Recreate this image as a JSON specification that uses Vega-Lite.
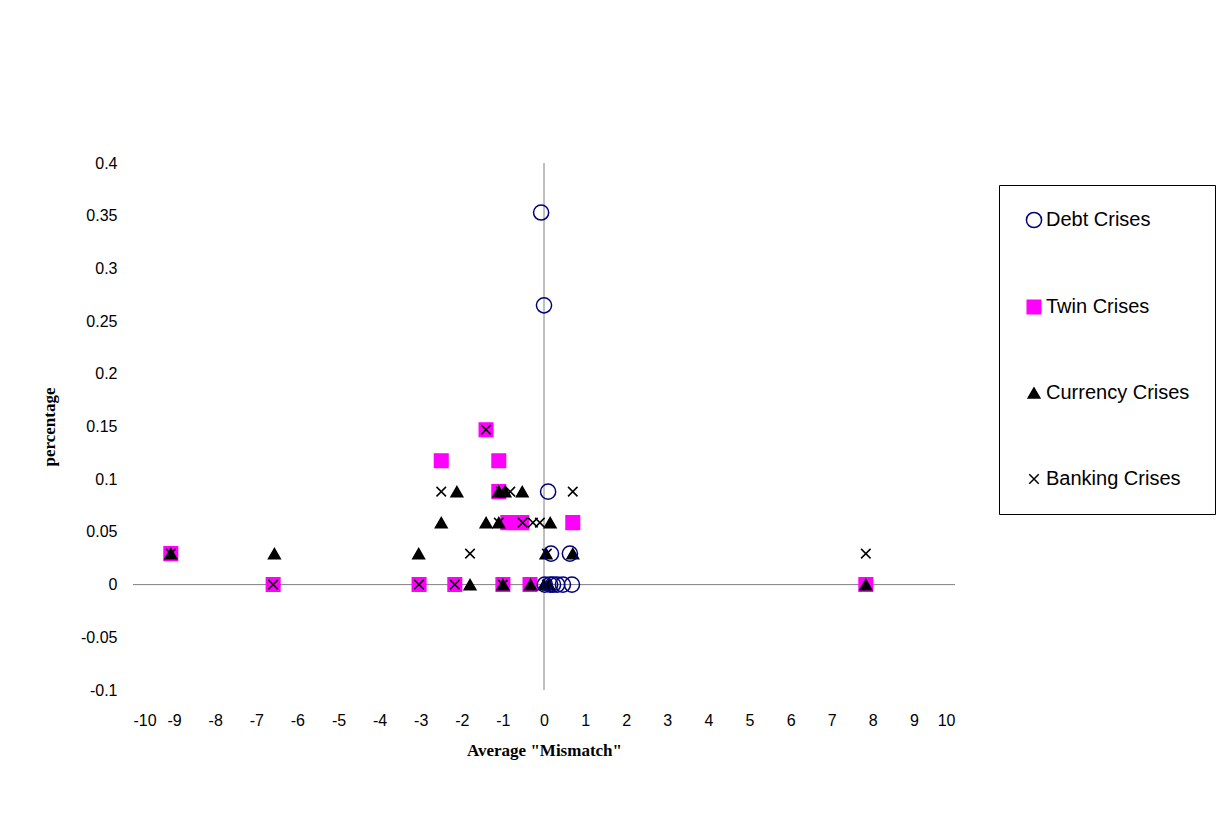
{
"$schema":"https://vega.github.io/schema/vega-lite/v6.json",
"width":822,"height":527,
"autosize":{"type":"none"},
"padding":{"left":133,"top":163,"right":268,"bottom":133},
"background":"white",
"config":{"view":{"stroke":null},"font":"Liberation Sans"},
"layer":[
{"data":{"values":[{"x":0,"y":-0.1,"y2":0.4}]},"mark":{"type":"rule","color":"#808080","strokeWidth":1},
 "encoding":{"x":{"field":"x","type":"quantitative"},"y":{"field":"y","type":"quantitative"},"y2":{"field":"y2"}}},
{"data":{"values":[{"x":-10,"x2":10,"y":0}]},"mark":{"type":"rule","color":"#808080","strokeWidth":1},
 "encoding":{"x":{"field":"x","type":"quantitative"},"x2":{"field":"x2"},"y":{"field":"y","type":"quantitative"}}},
{"data":{"values":[
{"s":"Twin Crises","x":-9.08,"y":0.0294},{"s":"Twin Crises","x":-6.59,"y":0},{"s":"Twin Crises","x":-3.04,"y":0},{"s":"Twin Crises","x":-2.17,"y":0},{"s":"Twin Crises","x":-1.41,"y":0.147},{"s":"Twin Crises","x":-2.5,"y":0.1176},{"s":"Twin Crises","x":-1.1,"y":0.1176},{"s":"Twin Crises","x":-1.1,"y":0.0882},{"s":"Twin Crises","x":-0.88,"y":0.0588},{"s":"Twin Crises","x":-0.54,"y":0.0588},{"s":"Twin Crises","x":0.7,"y":0.0588},{"s":"Twin Crises","x":-0.34,"y":0},{"s":"Twin Crises","x":-1.0,"y":0},{"s":"Twin Crises","x":7.83,"y":0},
{"s":"Currency Crises","x":-9.08,"y":0.0294},{"s":"Currency Crises","x":-6.56,"y":0.0294},{"s":"Currency Crises","x":-3.05,"y":0.0294},{"s":"Currency Crises","x":-1.8,"y":0},{"s":"Currency Crises","x":-2.12,"y":0.0882},{"s":"Currency Crises","x":-2.5,"y":0.0588},{"s":"Currency Crises","x":-1.41,"y":0.0588},{"s":"Currency Crises","x":-1.1,"y":0.0588},{"s":"Currency Crises","x":-1.1,"y":0.0882},{"s":"Currency Crises","x":-0.95,"y":0.0882},{"s":"Currency Crises","x":-0.53,"y":0.0882},{"s":"Currency Crises","x":0.15,"y":0.0588},{"s":"Currency Crises","x":0.05,"y":0.0294},{"s":"Currency Crises","x":0.7,"y":0.0294},{"s":"Currency Crises","x":-1.0,"y":0},{"s":"Currency Crises","x":-0.33,"y":0},{"s":"Currency Crises","x":0.0,"y":0},{"s":"Currency Crises","x":0.12,"y":0},{"s":"Currency Crises","x":7.83,"y":0},
{"s":"Banking Crises","x":-9.08,"y":0.0294},{"s":"Banking Crises","x":-6.59,"y":0},{"s":"Banking Crises","x":-3.04,"y":0},{"s":"Banking Crises","x":-2.17,"y":0},{"s":"Banking Crises","x":-1.41,"y":0.147},{"s":"Banking Crises","x":-2.5,"y":0.0882},{"s":"Banking Crises","x":-1.05,"y":0.0882},{"s":"Banking Crises","x":-0.82,"y":0.0882},{"s":"Banking Crises","x":0.7,"y":0.0882},{"s":"Banking Crises","x":-1.1,"y":0.0588},{"s":"Banking Crises","x":-0.52,"y":0.0588},{"s":"Banking Crises","x":-0.27,"y":0.0588},{"s":"Banking Crises","x":-0.1,"y":0.0588},{"s":"Banking Crises","x":-1.8,"y":0.0294},{"s":"Banking Crises","x":0.07,"y":0.0294},{"s":"Banking Crises","x":-1.0,"y":0},{"s":"Banking Crises","x":0.07,"y":0},{"s":"Banking Crises","x":7.83,"y":0.0294},
{"s":"Debt Crises","x":-0.07,"y":0.353},{"s":"Debt Crises","x":0.0,"y":0.265},{"s":"Debt Crises","x":0.1,"y":0.0882},{"s":"Debt Crises","x":0.17,"y":0.0294},{"s":"Debt Crises","x":0.63,"y":0.0294},{"s":"Debt Crises","x":0.02,"y":0},{"s":"Debt Crises","x":0.15,"y":0},{"s":"Debt Crises","x":0.22,"y":0},{"s":"Debt Crises","x":0.32,"y":0},{"s":"Debt Crises","x":0.46,"y":0},{"s":"Debt Crises","x":0.68,"y":0}
]},
"mark":{"type":"point","filled":false,"strokeWidth":1.5,"opacity":1},
"encoding":{
"x":{"field":"x","type":"quantitative","scale":{"domain":[-10,10],"nice":false},"axis":{"values":[-10,-9,-8,-7,-6,-5,-4,-3,-2,-1,0,1,2,3,4,5,6,7,8,9,10],"labelExpr":"toString(datum.value)","domain":false,"grid":false,"ticks":false,"labelFontSize":16,"labelColor":"black","labelPadding":22,"title":"Average \"Mismatch\"","titleFont":"Liberation Serif","titleFontSize":17,"titleFontWeight":"bold","titlePadding":14,"titleColor":"black"}},
"y":{"field":"y","type":"quantitative","scale":{"domain":[-0.1,0.4],"nice":false,"zero":false},"axis":{"values":[-0.1,-0.05,0,0.05,0.1,0.15,0.2,0.25,0.3,0.35,0.4],"labelExpr":"toString(datum.value)","domain":false,"grid":false,"ticks":false,"labelFontSize":16,"labelColor":"black","labelPadding":16,"title":"percentage","titleFont":"Liberation Serif","titleFontSize":17,"titleFontWeight":"bold","titlePadding":22,"titleColor":"black"}},
"color":{"field":"s","type":"nominal","scale":{"domain":["Debt Crises","Twin Crises","Currency Crises","Banking Crises"],"range":["#000080","#FF00FF","#000000","#000000"]},
 "legend":{"title":null,"orient":"none","legendX":866,"legendY":22,"strokeColor":"black","padding":25,"rowPadding":66,"labelFontSize":20,"labelColor":"black","symbolSize":180,"symbolStrokeWidth":1.5,"labelOffset":2,"offset":0}},
"fill":{"field":"s","type":"nominal","scale":{"domain":["Debt Crises","Twin Crises","Currency Crises","Banking Crises"],"range":["transparent","#FF00FF","#000000","transparent"]},"legend":null},
"shape":{"field":"s","type":"nominal","scale":{"domain":["Debt Crises","Twin Crises","Currency Crises","Banking Crises"],"range":["circle","square","triangle-up","M-1,-1L1,1M-1,1L1,-1"]},"legend":null},
"size":{"field":"s","type":"nominal","scale":{"domain":["Debt Crises","Twin Crises","Currency Crises","Banking Crises"],"range":[230,90,90,70]},"legend":null}
}}
]}
